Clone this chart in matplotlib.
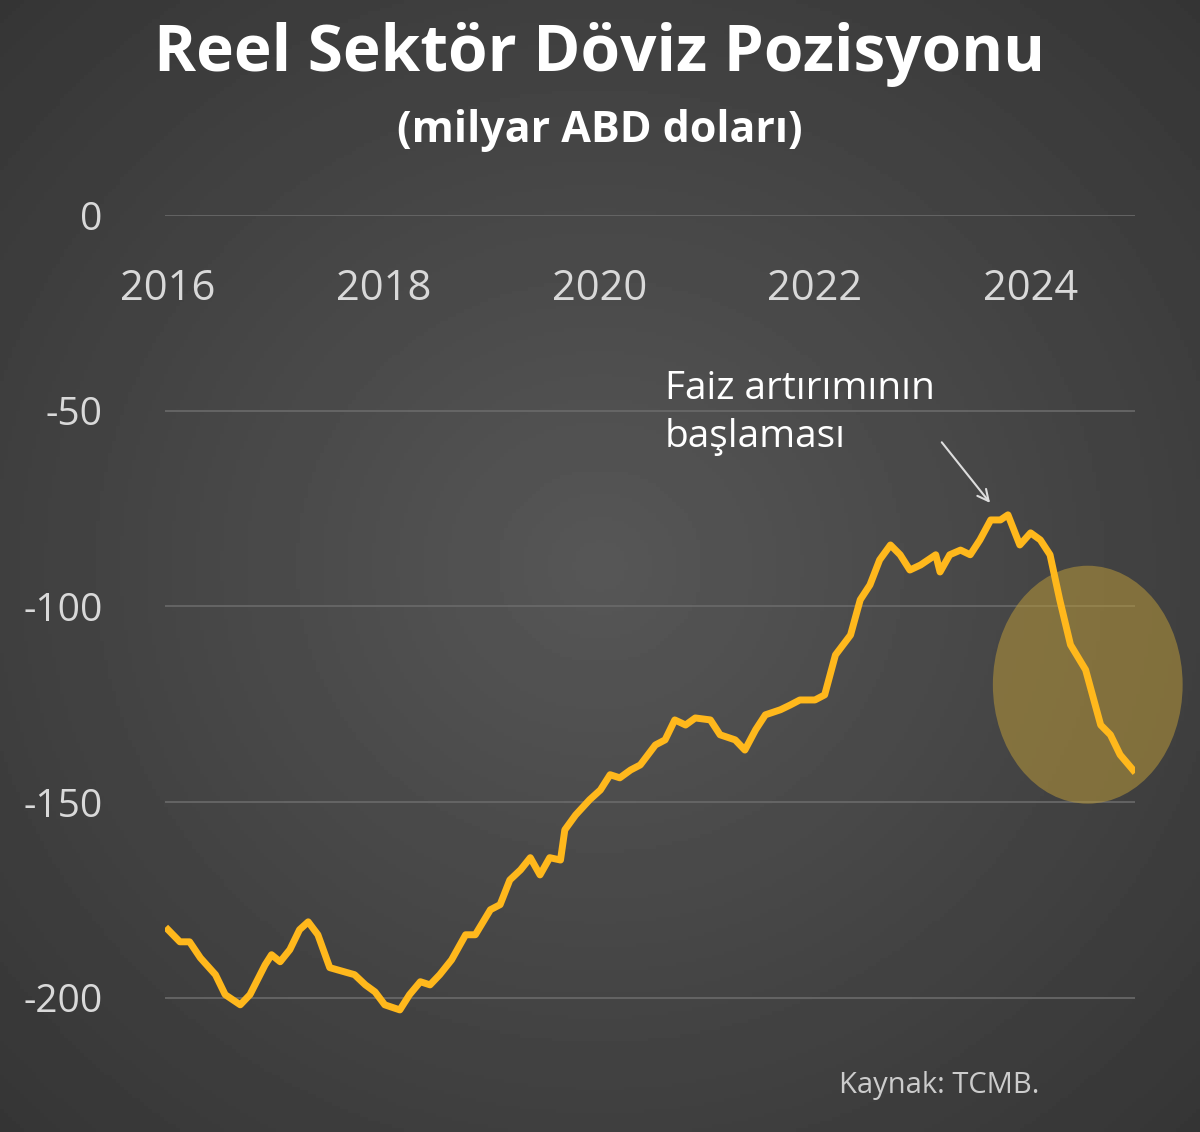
import matplotlib
matplotlib.use("Agg")
import matplotlib.pyplot as plt
import numpy as np
from matplotlib.patches import Ellipse

years = [0,.11,.20,.30,.44,.53,.67,.76,.90,.96,1.04,1.13,1.22,1.30,1.39,1.50,1.64,1.73,1.83,1.92,2.01,2.15,2.24,2.34,2.43,2.52,2.63,2.76,2.85,2.99,3.08,3.17,3.27,3.36,3.45,3.54,3.64,3.68,3.78,3.91,4.01,4.10,4.19,4.29,4.38,4.52,4.61,4.70,4.80,4.89,5.03,5.12,5.26,5.35,5.45,5.54,5.68,5.77,5.86,6.00,6.09,6.19,6.33,6.42,6.51,6.60,6.70,6.79,6.88,6.98,7.12,7.16,7.25,7.35,7.44,7.53,7.63,7.72,7.79,7.90,8.00,8.09,8.18,8.27,8.37,8.51,8.65,8.74,8.83,8.95]
values = [-182.6,-185.7,-185.7,-189.8,-194.1,-199.2,-201.8,-199.2,-191.6,-189.0,-190.8,-187.7,-182.6,-180.6,-183.9,-192.3,-193.4,-194.1,-196.7,-198.5,-201.8,-203.1,-199.2,-195.9,-196.7,-194.1,-190.3,-183.9,-183.9,-177.5,-176.2,-169.9,-167.3,-164.2,-168.6,-164.2,-164.8,-157.1,-153.3,-149.4,-146.9,-143.0,-143.8,-141.8,-140.5,-135.4,-134.1,-129.0,-130.3,-128.5,-129.0,-132.8,-134.1,-136.7,-131.5,-127.7,-126.4,-125.2,-123.9,-123.9,-122.6,-112.4,-107.3,-98.3,-94.5,-88.1,-84.3,-86.8,-90.7,-89.4,-86.8,-91.2,-86.8,-85.6,-86.8,-83.0,-77.9,-77.9,-76.6,-84.3,-81.2,-83.0,-86.8,-98.3,-109.8,-116.2,-130.3,-132.8,-137.9,-141.8]
x = [2016 + y for y in years]
xticks = [2016, 2018, 2020, 2022, 2024]
yticks = [0, -50, -100, -150, -200]

plt.rcParams['font.family'] = ['Open Sans', 'DejaVu Sans']
fig = plt.figure(figsize=(12, 11.32), dpi=100)
bg = fig.add_axes([0, 0, 1, 1])
yy, xx = np.mgrid[-1:1:300j, -1:1:300j]
r = np.sqrt(xx**2 + yy**2)
bg.imshow(0.34 - 0.13 * np.clip(r / 1.4, 0, 1), cmap='gray', vmin=0, vmax=1, extent=[0, 1, 0, 1], aspect='auto')
bg.axis('off')

ax = fig.add_axes([0.1375, 0.084, 0.8085, 0.726])
ax.patch.set_alpha(0)
ax.set_xlim(2015.972, 2024.97)
ax.set_ylim(-210, 0)
for v in yticks:
    ax.axhline(v, color='#6a6a6a', lw=1.2, zorder=1)
ax.plot(x, values, color='#FFB81C', lw=5, zorder=3, solid_joinstyle='round')
ax.add_patch(Ellipse((2024.53, -120), 1.76, 60.8, color='#b8983a', alpha=0.55, zorder=2, lw=0, clip_on=False))
ax.annotate('', xy=(2023.64, -74.1), xytext=(2023.16, -57.5),
            arrowprops=dict(arrowstyle='->', color='#dddddd', lw=1.5, mutation_scale=20))
ax.text(2020.61, -39.5, 'Faiz artırımının\nbaşlaması', color='white', fontsize=28, va='top', ha='left', linespacing=1.35)
for s in ax.spines.values():
    s.set_visible(False)
ax.spines['bottom'].set_position(('data', 0))
ax.set_xticks(xticks)
ax.set_xticklabels([str(t) for t in xticks])
ax.set_yticks(yticks)
ax.set_yticklabels([str(t) for t in yticks])
ax.tick_params(axis='x', length=0, pad=38, labelsize=30, colors='#d9d9d9')
ax.tick_params(axis='y', length=0, pad=45, labelsize=28, colors='#d9d9d9')
for lab in ax.get_yticklabels():
    lab.set_horizontalalignment('right')

fig.text(0.5, 0.952, 'Reel Sektör Döviz Pozisyonu', ha='center', va='center', color='white', fontsize=46, fontweight='bold')
fig.text(0.5, 0.885, '(milyar ABD doları)', ha='center', va='center', color='white', fontsize=31, fontweight='bold')
fig.text(0.866, 0.041, 'Kaynak: TCMB.', ha='right', va='center', color='#cccccc', fontsize=21)
fig.savefig('out.png', dpi=100)
